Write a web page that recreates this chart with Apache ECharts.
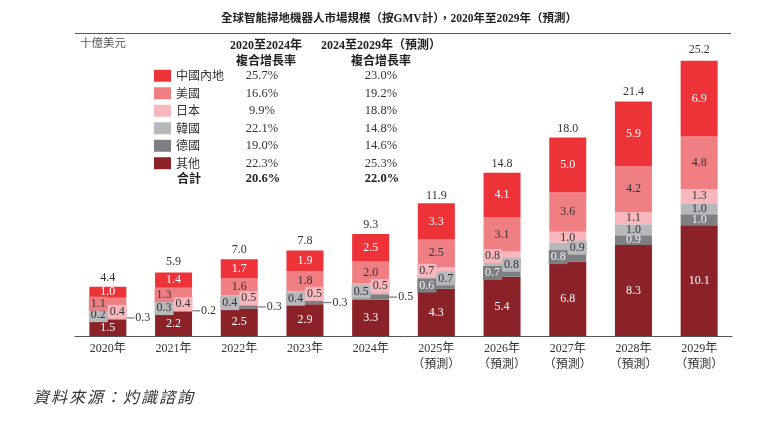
<!DOCTYPE html>
<html><head><meta charset="utf-8">
<script src="https://cdn.jsdelivr.net/npm/echarts@6/dist/echarts.min.js"></script>
<style>html,body{margin:0;padding:0;background:#fff}#c{width:784px;height:432px}</style>
</head><body><div id="c"></div>
<script>
const categories = ['2020年','2021年','2022年','2023年','2024年','2025年\n（預測）','2026年\n（預測）','2027年\n（預測）','2028年\n（預測）','2029年\n（預測）'];
const seriesNames = ['中國內地','美國','日本','韓國','德國','其他'];
const china   = [1.0,1.4,1.7,1.9,2.5,3.3,4.1,5.0,5.9,6.9];
const usa     = [1.1,1.3,1.6,1.8,2.0,2.5,3.1,3.6,4.2,4.8];
const japan   = [0.4,0.4,0.5,0.5,0.5,0.7,0.8,1.0,1.1,1.3];
const korea   = [0.2,0.3,0.4,0.4,0.5,0.7,0.8,0.9,1.0,1.0];
const germany = [0.3,0.2,0.3,0.3,0.5,0.6,0.7,0.8,0.9,1.0];
const others  = [1.5,2.2,2.5,2.9,3.3,4.3,5.4,6.8,8.3,10.1];
const totals  = [4.4,5.9,7.0,7.8,9.3,11.9,14.8,18.0,21.4,25.2];
const cagr2020_2024 = ['25.7%','16.6%','9.9%','22.1%','19.0%','22.3%'];
const cagr2024_2029 = ['23.0%','19.2%','18.8%','14.8%','14.6%','25.3%'];
const cagrTotal = ['20.6%','22.0%'];
const sourceText = '資料來源：灼識諮詢';

const SERIF = '"Liberation Serif","Noto Sans CJK TC",serif';
const CJK = '"Noto Sans CJK TC","Liberation Serif",sans-serif';
const colors = {'中國內地':'#EE3338','美國':'#F07F84','日本':'#F8B7BD','韓國':'#B7B8BB','德國':'#7E7F83','其他':'#8A2228'};
const textColors = {'中國內地':'#fff','美國':'#333','日本':'#333','韓國':'#333','德國':'#f2f2f2','其他':'#fff'};
// label placement (c=centre, l=left half, r=right half, o=outside with leader)
const placement = {
  '中國內地':['c','c','c','c','c','c','c','c','c','c'],
  '美國':['l','l','c','c','c','c','c','c','c','c'],
  '日本':['r','r','r','r','r','l','l','c','c','c'],
  '韓國':['l','l','l','l','l','r','r','r','c','c'],
  '德國':['o','o','o','o','o','l','l','l','c','c'],
  '其他':['c','c','c','c','c','c','c','c','c','c']
};
const valuesByName = {'中國內地':china,'美國':usa,'日本':japan,'韓國':korea,'德國':germany,'其他':others};

function labelFor(name, mode, v){
  const base = {show:true, fontFamily:SERIF, fontSize:12, color:textColors[name], lineHeight:13};
  const txt = v.toFixed(1);
  if (mode==='c') return Object.assign(base,{position:'inside', formatter:txt});
  if (mode==='l' || mode==='r') return Object.assign(base,{position:'inside', formatter:txt, offset:[mode==='l'?-9.5:9.5,0], backgroundColor:colors[name], padding:[1,2,0,2]});
  return Object.assign(base,{position:'right', distance:0, color:'#333', formatter:'{l|}{v|'+txt+'}',
    rich:{l:{width:8,height:1.2,backgroundColor:'#777'}, v:{fontFamily:SERIF,fontSize:12,color:'#333',padding:[0,0,0,1]}}});
}

const stackOrder = ['其他','德國','韓國','日本','美國','中國內地'];
const series = stackOrder.map(name => ({
  name, type:'bar', stack:'t', barWidth:37,
  itemStyle:{color:colors[name]},
  data: valuesByName[name].map((v,i)=>({value:v, label:labelFor(name, placement[name][i], v)}))
}));
series.push({
  name:'合計', type:'line', data:totals, symbol:'circle', symbolSize:1,
  itemStyle:{color:'rgba(0,0,0,0)'}, lineStyle:{opacity:0}, silent:true, z:10,
  label:{show:true, position:'top', distance:3, fontFamily:SERIF, fontSize:12, color:'#333', formatter:p=>p.value.toFixed(1)}
});

const sourceRich = sourceText.split('').map(ch=>'{c|'+ch+'}').join('');

const chart = echarts.init(document.getElementById('c'));
chart.setOption({
  animation:false,
  grid:{left:75, right:52, top:51, bottom:96},
  xAxis:{type:'category', data:categories, axisLine:{lineStyle:{color:'#555', width:1}}, axisTick:{show:false},
    axisLabel:{color:'#333', fontFamily:SERIF, fontSize:12, lineHeight:16, margin:5, interval:0}},
  yAxis:{type:'value', show:false, min:0, max:26},
  legend:{data:seriesNames, orient:'vertical', left:154, top:69.5, padding:0, itemWidth:17, itemHeight:12, itemGap:5, icon:'rect',
    selectedMode:false,
    formatter:name=>{const i=seriesNames.indexOf(name); return '{n|'+name+'}{a|'+cagr2020_2024[i]+'}{b|'+cagr2024_2029[i]+'}';},
    textStyle:{rich:{
      n:{width:56, fontFamily:CJK, fontSize:12, color:'#333', lineHeight:13},
      a:{width:60, align:'center', fontFamily:SERIF, fontSize:12.5, color:'#333', lineHeight:13},
      b:{width:178, align:'center', fontFamily:SERIF, fontSize:12.5, color:'#333', lineHeight:13}
    }}},
  graphic:[
    {type:'text', x:399, y:13, style:{text:'全球智能掃地機器人市場規模（按GMV計），2020年至2029年（預測）', font:'bold 11.5px '+SERIF, fill:'#222', align:'center'}},
    {type:'line', shape:{x1:75,y1:33.5,x2:731,y2:33.5}, style:{stroke:'#555', lineWidth:1}},
    {type:'text', x:80, y:37, style:{text:'十億美元', font:'11.5px '+CJK, fill:'#555'}},
    {type:'text', x:266, y:40, style:{text:'2020至2024年', font:'bold 12px '+SERIF, fill:'#222', align:'center'}},
    {type:'text', x:266, y:54, style:{text:'複合增長率', font:'bold 12px '+CJK, fill:'#222', align:'center'}},
    {type:'text', x:381, y:40, style:{text:'2024至2029年（預測）', font:'bold 12px '+SERIF, fill:'#222', align:'center'}},
    {type:'text', x:381, y:54, style:{text:'複合增長率', font:'bold 12px '+CJK, fill:'#222', align:'center'}},
    {type:'text', x:177, y:172.5, style:{text:'合計', font:'bold 12px '+CJK, fill:'#222'}},
    {type:'text', x:263, y:172.5, style:{text:cagrTotal[0], font:'bold 12.5px '+SERIF, fill:'#222', align:'center'}},
    {type:'text', x:382, y:172.5, style:{text:cagrTotal[1], font:'bold 12.5px '+SERIF, fill:'#222', align:'center'}},
    {type:'text', x:33, y:389, style:{text:sourceRich, rich:{c:{font:'italic 16px '+CJK, fill:'#333', padding:[0,2,0,0]}}}}
  ],
  series
});
</script></body></html>
